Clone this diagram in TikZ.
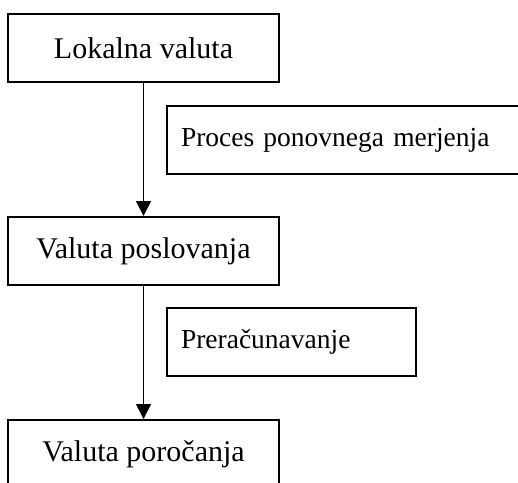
\documentclass[tikz,border=0pt]{standalone}
\usepackage{fontspec}
\setmainfont{Liberation Serif}
\usetikzlibrary{arrows.meta}

\begin{document}
\begin{tikzpicture}[x=0.4pt,y=-0.4pt,
   cur/.style={draw,line width=0.8pt,minimum width=108.4pt,minimum height=27.2pt,
               inner sep=0pt,font=\fontsize{12}{14}\selectfont},
   proc/.style={draw,line width=0.8pt,minimum height=27.2pt,inner xsep=5.6pt,
                align=left,font=\fontsize{11}{13}\selectfont},
   flow/.style={-{Triangle[length=6pt,width=6pt]},line width=0.6pt}]
  \clip (0,0) rectangle (518,482);
  \node[cur] (local) at (143.5,48) {Lokalna valuta};
  \node[cur] (func) at (143.5,251) {Valuta poslovanja};
  \node[cur] (report) at (143.5,454) {Valuta poročanja};
  \node[proc,text width=140.8pt,anchor=north west] (remeas) at (166,105) {Proces ponovnega merjenja};
  \node[proc,text width=88.4pt,anchor=north west] (transl) at (166,307) {Preračunavanje};
  \draw[flow] (local) -- (func);
  \draw[flow] (func) -- (report);
\end{tikzpicture}
\end{document}
